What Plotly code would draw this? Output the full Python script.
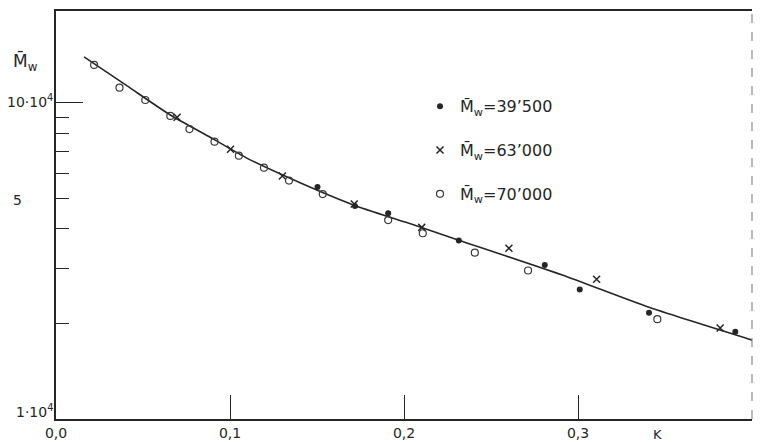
import plotly.graph_objects as go

# ---- data ----
# fitted curve
curve_k = [0.0161, 0.0409, 0.0657, 0.0879, 0.1099, 0.1406, 0.1712, 0.2012, 0.2315, 0.2905, 0.3404, 0.4010]
curve_mw = [139900, 113200, 91600, 78300, 66800, 55800, 47500, 41900, 36800, 28600, 22600, 17700]

# Mw = 39'500 (filled dots)
k_39500 = [0.1503, 0.1718, 0.1909, 0.2315, 0.2809, 0.3010, 0.3408, 0.3904]
mw_39500 = [54200, 47200, 44800, 36700, 30700, 25700, 21700, 18900]

# Mw = 63'000 (crosses)
k_63000 = [0.0696, 0.1003, 0.1301, 0.1714, 0.2102, 0.2603, 0.3107, 0.3817]
mw_63000 = [90100, 71400, 58700, 47900, 40400, 34700, 27700, 19400]

# Mw = 70'000 (open circles)
k_70000 = [0.0219, 0.0365, 0.0513, 0.0657, 0.0767, 0.0911, 0.1051, 0.1195, 0.1339,
           0.1533, 0.1909, 0.2108, 0.2407, 0.2713, 0.3456]
mw_70000 = [131900, 111800, 102200, 91000, 82700, 75400, 68100, 62400, 56800,
            51500, 42600, 38700, 33600, 29500, 20700]

x_tickvals = [0.0, 0.1, 0.2, 0.3, 0.4]
x_ticktext = ["0,0", "0,1", "0,2", "0,3", "0,4"]
y_minor = [20000, 30000, 40000, 50000, 60000, 70000, 80000, 90000]

INK = "#262626"
FONT = "DejaVu Sans"

fig = go.Figure()

fig.add_trace(go.Scatter(
    x=curve_k, y=curve_mw, mode="lines",
    line=dict(color=INK, width=1.6, shape="spline", smoothing=0.6),
    showlegend=False, hoverinfo="skip"))

fig.add_trace(go.Scatter(
    x=k_39500, y=mw_39500, mode="markers", name="M\u0304<sub>w</sub>=39\u2019500",
    legendgroup="a",
    marker=dict(symbol="circle", size=6, color=INK)))

fig.add_trace(go.Scatter(
    x=k_63000, y=mw_63000, mode="markers", name="M\u0304<sub>w</sub>=63\u2019000",
    legendgroup="b",
    marker=dict(symbol="x-thin", size=7, color=INK, line=dict(color=INK, width=1.5))))

fig.add_trace(go.Scatter(
    x=k_70000, y=mw_70000, mode="markers", name="M\u0304<sub>w</sub>=70\u2019000",
    legendgroup="c",
    marker=dict(symbol="circle-open", size=7, color="#3a3a3a", line=dict(width=1.2))))

fig.update_layout(
    width=762, height=442,
    margin=dict(l=56, r=10, t=11, b=23, autoexpand=False),
    paper_bgcolor="white", plot_bgcolor="white",
    font=dict(family=FONT, size=14, color=INK),
    legend=dict(x=0.523, y=0.808, xanchor="left", yanchor="top",
                bgcolor="rgba(0,0,0,0)", font=dict(size=16, color=INK),
                tracegroupgap=20, itemwidth=30),
)

fig.update_xaxes(
    range=[0, 0.4], showgrid=False, zeroline=False, automargin=False,
    showline=True, linecolor=INK, linewidth=1.5, mirror=True,
    tickvals=x_tickvals, ticktext=x_ticktext,
    ticks="inside", ticklen=24, tickwidth=1.3, tickcolor=INK,
    tickfont=dict(size=14, color=INK), ticklabelstandoff=0,
)

fig.update_yaxes(
    type="log", range=[4, 5.291], showgrid=False, zeroline=False, automargin=False,
    showline=True, linecolor=INK, linewidth=1.5,
    tickvals=[100000], ticks="inside", ticklen=27, tickwidth=1.3, tickcolor=INK,
    showticklabels=False,
    minor=dict(tickvals=y_minor, ticks="inside", ticklen=13, tickwidth=1.2, tickcolor=INK),
)

# faint dashed right border
fig.add_shape(type="line", xref="paper", yref="paper", x0=1, x1=1, y0=0, y1=1,
              line=dict(color="#8a8a8a", width=1.2, dash="dash"))

# y-axis labels
fig.add_annotation(text="M\u0304<sub>w</sub>", xref="paper", yref="paper",
                   x=-0.065, y=0.875, xanchor="left", yanchor="middle",
                   showarrow=False, font=dict(size=17, color=INK))
fig.add_annotation(text="10\u00b710<sup>4</sup>", xref="paper", yref="y",
                   x=-0.001, y=5.0, xanchor="right", yanchor="middle", yshift=2,
                   showarrow=False, font=dict(size=14, color=INK))
fig.add_annotation(text="5", xref="paper", yref="y",
                   x=-0.065, y=4.699, xanchor="left", yanchor="middle", yshift=-2,
                   showarrow=False, font=dict(size=14, color=INK))
fig.add_annotation(text="1\u00b710<sup>4</sup>", xref="paper", yref="y",
                   x=-0.001, y=4.0, xanchor="right", yanchor="middle", yshift=8,
                   showarrow=False, font=dict(size=14, color=INK))
# x-axis label
fig.add_annotation(text="K", xref="x", yref="paper",
                   x=0.3454, y=-0.039, xanchor="center", yanchor="middle",
                   showarrow=False, font=dict(size=13, color=INK))

fig.write_html("out.html")
